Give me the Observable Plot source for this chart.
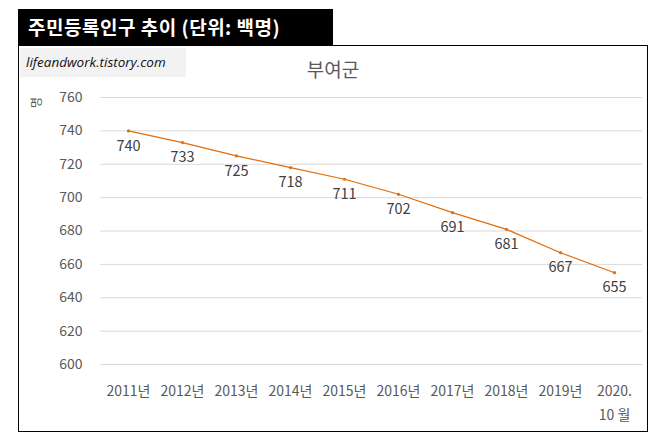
<!DOCTYPE html>
<html>
<head>
<meta charset="utf-8">
<script src="https://cdn.jsdelivr.net/npm/d3@7"></script>
<script src="https://cdn.jsdelivr.net/npm/@observablehq/plot@0.6"></script>
<style>
  html, body { margin: 0; padding: 0; background: #fff; }
  body { width: 656px; height: 434px; position: relative; overflow: hidden; font-family: "Noto Sans CJK KR", "Noto Sans", sans-serif; }
  #header { position: absolute; left: 18px; top: 9px; width: 315px; height: 37px; background: #000; color: #fff;
    font-weight: bold; font-size: 19px; line-height: 36px; padding-left: 10px; box-sizing: border-box; letter-spacing: 0.5px; white-space: nowrap; }
  #box { position: absolute; left: 18px; top: 45px; width: 630px; height: 387px; border: 1px solid #000; box-sizing: border-box; }
  #wm { position: absolute; left: 20px; top: 48px; width: 166px; height: 29px; background: #f2f2f2;
    font-style: italic; font-size: 13.5px; line-height: 29px; padding-left: 6px; box-sizing: border-box; color: #111; font-family: "Open Sans", "Noto Sans", sans-serif; }
  #title { position: absolute; left: 233px; width: 200px; top: 55px; text-align: center; font-size: 19px; color: #595959; }
  #unit { position: absolute; left: 30px; top: 94px; font-size: 12px; color: #595959; transform: rotate(-90deg); transform-origin: center; }
  #chart { position: absolute; left: 0; top: 0; }
</style>
</head>
<body>
<div id="header">주민등록인구 추이 (단위: 백명)</div>
<div id="box"></div>
<div id="wm">lifeandwork.tistory.com</div>
<div id="title">부여군</div>
<div id="unit">명</div>
<div id="chart"></div>
<script>
const years = ["2011년","2012년","2013년","2014년","2015년","2016년","2017년","2018년","2019년","2020.\n10 월"];
const values = [740, 733, 725, 718, 711, 702, 691, 681, 667, 655];
const yTicks = [600, 620, 640, 660, 680, 700, 720, 740, 760];

const data = years.map((y, i) => ({year: y, value: values[i]}));

const chart = Plot.plot({
  width: 656,
  height: 434,
  marginLeft: 100,
  marginRight: 14,
  marginTop: 97,
  marginBottom: 70,
  style: {background: "transparent", fontFamily: "'Noto Sans CJK KR', 'Noto Sans', sans-serif", overflow: "visible"},
  x: {type: "point", domain: years, padding: 0.5, label: null},
  y: {domain: [600, 760], label: null},
  marks: [
    Plot.gridY(yTicks, {stroke: "#d9d9d9", strokeOpacity: 1, strokeWidth: 1}),
    Plot.axisY(yTicks, {tickSize: 0, tickPadding: 18, fontSize: 14, fill: "#595959", label: null}),
    Plot.axisX({tickSize: 0, tickPadding: 14, fontSize: 14, fill: "#595959", label: null, lineHeight: 1.75}),
    Plot.line(data, {x: "year", y: "value", stroke: "#E46C0A", strokeWidth: 1.2}),
    Plot.dot(data, {x: "year", y: "value", r: 1.6, fill: "#E46C0A", stroke: null}),
    Plot.text(data, {x: "year", y: "value", text: d => String(d.value), dy: 15, fontSize: 14.5, fill: "#404040"})
  ]
});
document.getElementById("chart").appendChild(chart);
</script>
</body>
</html>
